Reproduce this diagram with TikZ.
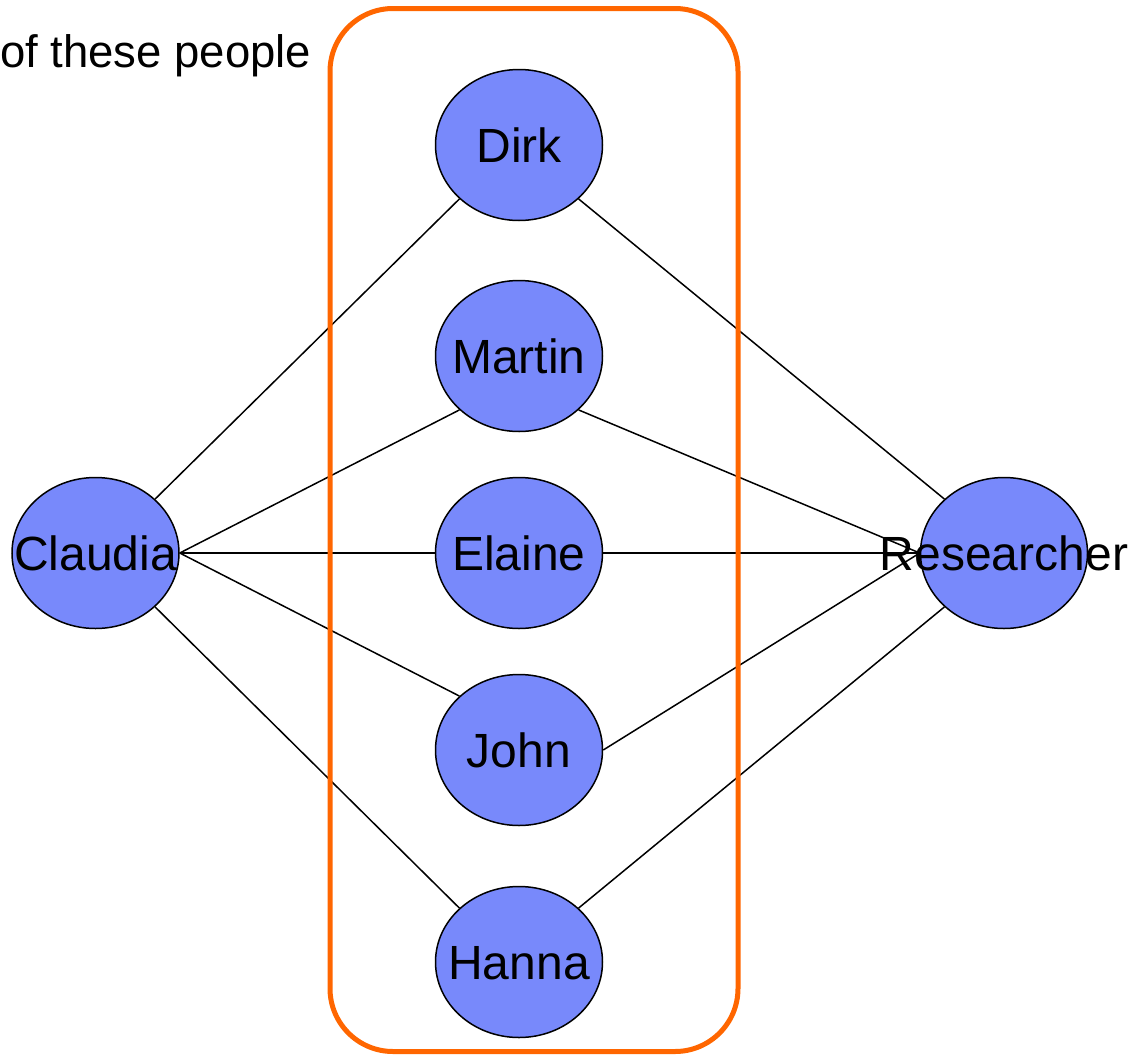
\documentclass[tikz,border=0pt]{standalone}
\usepackage{fontspec}
\setmainfont{Liberation Sans}
\usetikzlibrary{shapes.geometric}
\definecolor{nodeblue}{HTML}{7889FB}
\definecolor{frameorange}{HTML}{FF6600}
\tikzset{
  person/.style={ellipse, draw=black, line width=1.5pt, fill=nodeblue,
    minimum width=167pt, minimum height=151pt, inner sep=0pt},
  lbl/.style={font=\fontsize{48}{57}\selectfont, inner sep=0pt,
    text height=34.4pt, text depth=0pt},
  link/.style={draw=black, line width=1.5pt},
  frame/.style={draw=frameorange, line width=5pt, rounded corners=63pt}
}
\begin{document}
\begin{tikzpicture}[x=1pt,y=-1pt]
\useasboundingbox (0,0) rectangle (1133,1055);
\node[person] (claudia) at (95.5,553) {};
\node[person] (dirk) at (519,145) {};
\node[person] (martin) at (519,356) {};
\node[person] (elaine) at (519,553) {};
\node[person] (john) at (519,750) {};
\node[person] (hanna) at (519,962) {};
\node[person] (res) at (1004,553) {};
\draw[link] (claudia.north east) -- (dirk.south west);
\draw[link] (claudia.east) -- (martin.south west);
\draw[link] (claudia.east) -- (elaine.west);
\draw[link] (claudia.east) -- (john.north west);
\draw[link] (claudia.south east) -- (hanna.north west);
\draw[link] (dirk.south east) -- (res.north west);
\draw[link] (martin.south east) -- (res.west);
\draw[link] (elaine.east) -- (res.west);
\draw[link] (john.east) -- (res.west);
\draw[link] (hanna.north east) -- (res.south west);
\path[frame] (330,8.5) rectangle (738,1051.5);
\node[lbl] at (claudia) {Claudia};
\node[lbl] at (dirk) {Dirk};
\node[lbl] at (martin) {Martin};
\node[lbl] at (elaine) {Elaine};
\node[lbl] at (john) {John};
\node[lbl] at (hanna) {Hanna};
\node[lbl] at (res) {Researcher};
\node[font=\fontsize{45.5}{55}\selectfont, inner sep=0pt, anchor=base west] (caption) at (0,67) {of these people};
\end{tikzpicture}
\end{document}
